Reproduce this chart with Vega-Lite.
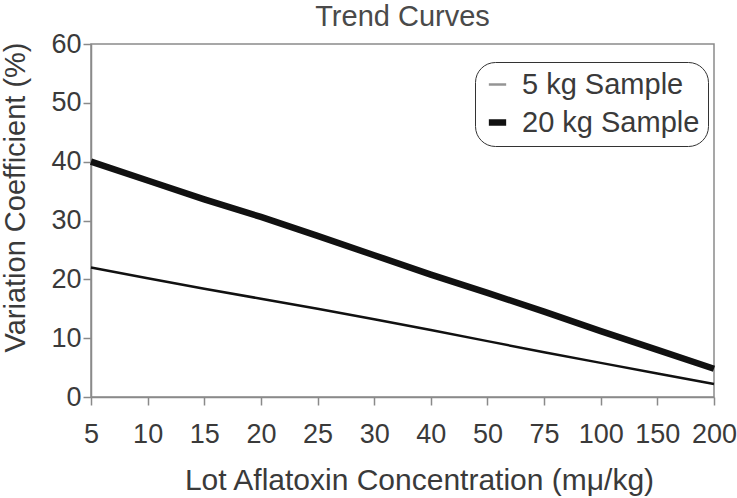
{
  "$schema": "https://vega.github.io/schema/vega-lite/v6.json",
  "width": 623,
  "height": 353,
  "autosize": {"type": "none"},
  "padding": {"left": 91, "top": 44, "right": 23, "bottom": 101},
  "background": "white",
  "config": {
    "font": "Liberation Sans",
    "view": {"stroke": "#8a8a8a", "strokeWidth": 1.5},
    "axis": {
      "domainColor": "#8a8a8a",
      "domainWidth": 1.5,
      "tickColor": "#8a8a8a",
      "tickWidth": 1.5,
      "tickSize": 8,
      "grid": false,
      "labelFont": "Liberation Sans",
      "labelFontSize": 27,
      "labelColor": "#3a3a3a",
      "titleFont": "Liberation Sans",
      "titleFontWeight": "normal",
      "titleColor": "#3a3a3a",
      "titleLimit": 600
    }
  },
  "title": {
    "text": "Trend Curves",
    "fontSize": 29,
    "fontWeight": "normal",
    "color": "#4a4a4a",
    "offset": -2,
    "anchor": "middle"
  },
  "data": {
    "values": [
      {"conc": "5", "series": "5 kg Sample", "cv": 22.0},
      {"conc": "10", "series": "5 kg Sample", "cv": 20.2},
      {"conc": "15", "series": "5 kg Sample", "cv": 18.4},
      {"conc": "20", "series": "5 kg Sample", "cv": 16.7},
      {"conc": "25", "series": "5 kg Sample", "cv": 15.0},
      {"conc": "30", "series": "5 kg Sample", "cv": 13.2},
      {"conc": "40", "series": "5 kg Sample", "cv": 11.4},
      {"conc": "50", "series": "5 kg Sample", "cv": 9.5},
      {"conc": "75", "series": "5 kg Sample", "cv": 7.6},
      {"conc": "100", "series": "5 kg Sample", "cv": 5.8},
      {"conc": "150", "series": "5 kg Sample", "cv": 4.0},
      {"conc": "200", "series": "5 kg Sample", "cv": 2.2},
      {"conc": "5", "series": "20 kg Sample", "cv": 40.0},
      {"conc": "10", "series": "20 kg Sample", "cv": 36.8},
      {"conc": "15", "series": "20 kg Sample", "cv": 33.6},
      {"conc": "20", "series": "20 kg Sample", "cv": 30.6},
      {"conc": "25", "series": "20 kg Sample", "cv": 27.4},
      {"conc": "30", "series": "20 kg Sample", "cv": 24.1},
      {"conc": "40", "series": "20 kg Sample", "cv": 20.8},
      {"conc": "50", "series": "20 kg Sample", "cv": 17.7},
      {"conc": "75", "series": "20 kg Sample", "cv": 14.5},
      {"conc": "100", "series": "20 kg Sample", "cv": 11.2},
      {"conc": "150", "series": "20 kg Sample", "cv": 8.0},
      {"conc": "200", "series": "20 kg Sample", "cv": 4.8}
    ]
  },
  "mark": {"type": "line", "strokeCap": "butt"},
  "encoding": {
    "x": {
      "field": "conc",
      "type": "ordinal",
      "sort": ["5", "10", "15", "20", "25", "30", "40", "50", "75", "100", "150", "200"],
      "scale": {"type": "point", "padding": 0},
      "axis": {
        "title": "Lot Aflatoxin Concentration (mμ/kg)",
        "titleFontSize": 30,
        "titleAlign": "center",
        "titleX": 328,
        "labelAngle": 0,
        "labelPadding": 16,
        "titlePadding": 18
      }
    },
    "y": {
      "field": "cv",
      "type": "quantitative",
      "scale": {"domain": [0, 60], "nice": false},
      "axis": {
        "title": "Variation Coefficient (%)",
        "titleFontSize": 29,
        "values": [0, 10, 20, 30, 40, 50, 60],
        "labelPadding": 2,
        "titleAngle": 270,
        "titleBaseline": "alphabetic",
        "titleAlign": "center",
        "titleX": -67,
        "titleY": 153
      }
    },
    "color": {
      "field": "series",
      "type": "nominal",
      "scale": {"domain": ["5 kg Sample", "20 kg Sample"], "range": ["#111111", "#111111"]},
      "legend": {
        "title": null,
        "orient": "none",
        "legendX": 384,
        "legendY": 18,
        "direction": "vertical",
        "labelFontSize": 29,
        "labelLimit": 400,
        "labelColor": "#3a3a3a",
        "labelFont": "Liberation Sans",
        "symbolType": "stroke",
        "symbolSize": 300,
        "labelOffset": 10,
        "rowPadding": 8,
        "strokeColor": "#333333",
        "cornerRadius": 20,
        "padding": 8,
        "encode": {
          "symbols": {
            "update": {
              "stroke": [{"test": "datum.value === '5 kg Sample'", "value": "#a0a0a0"}, {"value": "#111111"}],
              "strokeOpacity": [{"test": "datum.value === '5 kg Sample'", "value": 0.45}, {"value": 1}],
              "strokeWidth": [{"test": "datum.value === '5 kg Sample'", "value": 1.5}, {"value": 5}]
            }
          }
        }
      }
    },
    "strokeWidth": {
      "field": "series",
      "type": "nominal",
      "scale": {"domain": ["5 kg Sample", "20 kg Sample"], "range": [2.5, 6.5]},
      "legend": null
    }
  }
}
